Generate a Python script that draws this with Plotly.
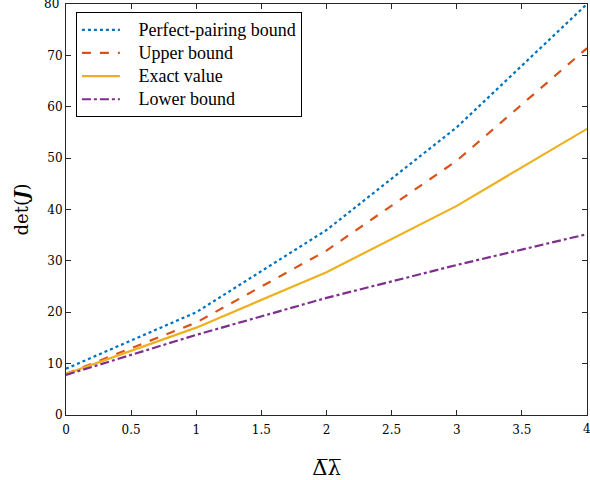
import plotly.graph_objects as go

x_vals = [0, 1, 2, 3, 4]
perfect_pairing = [9.0, 20.0, 36.0, 56.0, 80.0]
upper_bound = [8.0, 18.0, 32.0, 49.5, 71.4]
exact_value = [8.0, 17.0, 27.8, 40.7, 55.7]
lower_bound = [7.8, 15.6, 22.8, 29.2, 35.2]

x_ticks = [0, 0.5, 1, 1.5, 2, 2.5, 3, 3.5, 4]
x_ticklabels = ["0", "0.5", "1", "1.5", "2", "2.5", "3", "3.5", "4"]
y_ticks = [0, 10, 20, 30, 40, 50, 60, 70, 80]

names = ["Perfect-pairing bound", "Upper bound", "Exact value", "Lower bound"]
colors = ["#0072BD", "#D95319", "#EDB120", "#7E2F8E"]
dashes = ["dot", "dash", "solid", "dashdot"]
series = [perfect_pairing, upper_bound, exact_value, lower_bound]

fig = go.Figure()
for name, ys, c, d in zip(names, series, colors, dashes):
    fig.add_trace(go.Scatter(
        x=x_vals, y=ys, mode="lines",
        name='<span style="font-size:18px">   ' + name + '</span>',
        line=dict(color=c, width=2.2, dash=d),
    ))

tick_font = dict(family="DejaVu Serif", size=12, color="#000")
axis_common = dict(
    showline=True, linecolor="#262626", linewidth=1, mirror="ticks",
    ticks="inside", ticklen=5, tickcolor="#262626", showgrid=False, zeroline=False,
    automargin=False, tickfont=tick_font,
)

# End tick labels that plotly drops at the page edge
fig.add_annotation(x=x_ticks[-1], y=0, xref="x", yref="paper", text=x_ticklabels[-1],
                   showarrow=False, yanchor="top", xanchor="center", yshift=-6,
                   font=tick_font, borderpad=0)
fig.add_annotation(x=0, y=y_ticks[-1], xref="paper", yref="y", text=str(y_ticks[-1]),
                   showarrow=False, xanchor="right", yanchor="middle", xshift=-6,
                   font=tick_font, borderpad=0)

fig.update_layout(
    width=590, height=480,
    margin=dict(l=66, r=3, t=4, b=65, autoexpand=False),
    plot_bgcolor="white", paper_bgcolor="white",
    font=dict(family="Liberation Serif", color="#000"),
    xaxis=dict(range=[0, 4], tickvals=x_ticks, ticktext=x_ticklabels, ticklabelstandoff=4,
               title=dict(text="\u0394\u0305\u03bb\u0305", font=dict(family="DejaVu Serif", size=21), standoff=24),
               **axis_common),
    yaxis=dict(range=[0, 80], tickvals=y_ticks,
               title=dict(text="det(<b><i>J</i></b>)", font=dict(family="DejaVu Serif", size=18), standoff=14),
               **axis_common),
    legend=dict(x=0.019, y=0.98, xanchor="left", yanchor="top",
                bgcolor="white", bordercolor="#000", borderwidth=1,
                font=dict(family="Liberation Serif", size=15.5), tracegroupgap=0,
                itemwidth=38),
    showlegend=True,
)

fig.write_html("out.html", config={"displayModeBar": False},
               post_script="document.body.style.margin='0';document.body.style.overflow='hidden';")
